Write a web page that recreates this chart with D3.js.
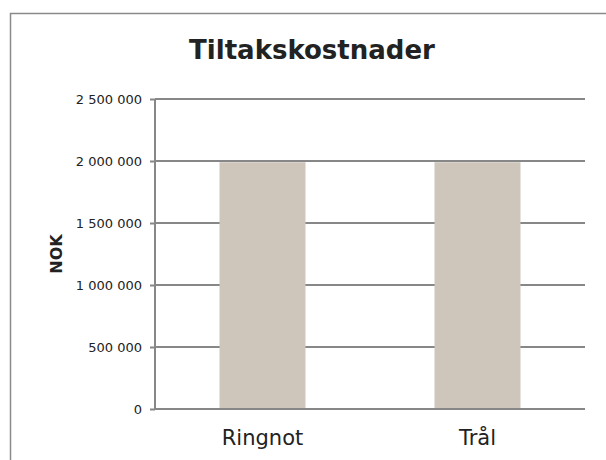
<!DOCTYPE html>
<html>
<head>
<meta charset="utf-8">
<script src="https://cdn.jsdelivr.net/npm/d3@7"></script>
<style>
  body { margin: 0; background: #fff; }
  text { font-family: "DejaVu Sans", Verdana, sans-serif; fill: #222; }
</style>
</head>
<body>
<script>
var categories = ["Ringnot", "Trål"];
var values = [1990000, 1990000];
var yTicks = [0, 500000, 1000000, 1500000, 2000000, 2500000];
var title = "Tiltakskostnader";
var yLabel = "NOK";

var W = 606, H = 460;
var margin = {top: 99, right: 21, bottom: 51, left: 155};
var w = W - margin.left - margin.right,
    h = H - margin.top - margin.bottom;

var svg = d3.select("body")
  .append("svg")
  .attr("width", W)
  .attr("height", H);

/*outer frame*/
svg.append("rect")
  .attr("x", 10.5).attr("y", 13.5)
  .attr("width", W).attr("height", H)
  .attr("fill", "none")
  .attr("stroke", "#8a8a8a")
  .attr("stroke-width", 1.5);

svg.append("text")
  .attr("x", 312).attr("y", 59)
  .attr("text-anchor", "middle")
  .style("font-size", "26px")
  .style("font-weight", "bold")
  .text(title);

var g = svg.append("g")
  .attr("transform", "translate(" + margin.left + "," + margin.top + ")");

var xScale = d3.scaleBand()
  .domain(categories)
  .range([0, w])
  .paddingInner(0.6)
  .paddingOuter(0.3);

var yScale = d3.scaleLinear()
  .domain([0, 2500000])
  .range([h, 0]);

var fmt = function(d) { return d3.format(",")(d).replace(/,/g, " "); };

/*gridlines*/
g.selectAll("line.grid")
  .data(yTicks)
  .enter()
  .append("line")
  .attr("class", "grid")
  .attr("x1", 0).attr("x2", w)
  .attr("y1", function(d) { return yScale(d); })
  .attr("y2", function(d) { return yScale(d); })
  .attr("stroke", "#878787")
  .attr("stroke-width", 2);

/*bars*/
g.selectAll("rect.bar")
  .data(values)
  .enter()
  .append("rect")
  .attr("class", "bar")
  .attr("x", function(d, i) { return xScale(categories[i]); })
  .attr("y", function(d) { return yScale(d); })
  .attr("width", xScale.bandwidth())
  .attr("height", function(d) { return h - yScale(d); })
  .attr("fill", "#cec6bb");

// lines above the bar tops stay on top
g.selectAll("line.grid").filter(function(d) { return d === 0 || d > 1990000; }).raise();

/*y axis*/
var yAxis = d3.axisLeft(yScale)
  .tickValues(yTicks)
  .tickSize(5)
  .tickPadding(8)
  .tickFormat(fmt);

var ya = g.append("g").call(yAxis);
ya.select(".domain").attr("stroke", "#878787").attr("stroke-width", 2)
  .attr("d", "M0," + yScale(2500000) + "V" + h);
ya.selectAll(".tick line").attr("stroke", "#878787").attr("stroke-width", 2);
ya.selectAll(".tick text")
  .style("font-size", "13px")
  .style("fill", "#222")
  .style("font-family", "DejaVu Sans, Verdana, sans-serif");

/*category labels*/
g.selectAll("text.cat")
  .data(categories)
  .enter()
  .append("text")
  .attr("class", "cat")
  .attr("x", function(d) { return xScale(d) + xScale.bandwidth() / 2; })
  .attr("y", h + 36)
  .attr("text-anchor", "middle")
  .style("font-size", "21px")
  .text(function(d) { return d; });

svg.append("text")
  .attr("transform", "translate(62," + (margin.top + h / 2) + ") rotate(-90)")
  .attr("text-anchor", "middle")
  .style("font-size", "16px")
  .style("font-weight", "bold")
  .text(yLabel);
</script>
</body>
</html>
